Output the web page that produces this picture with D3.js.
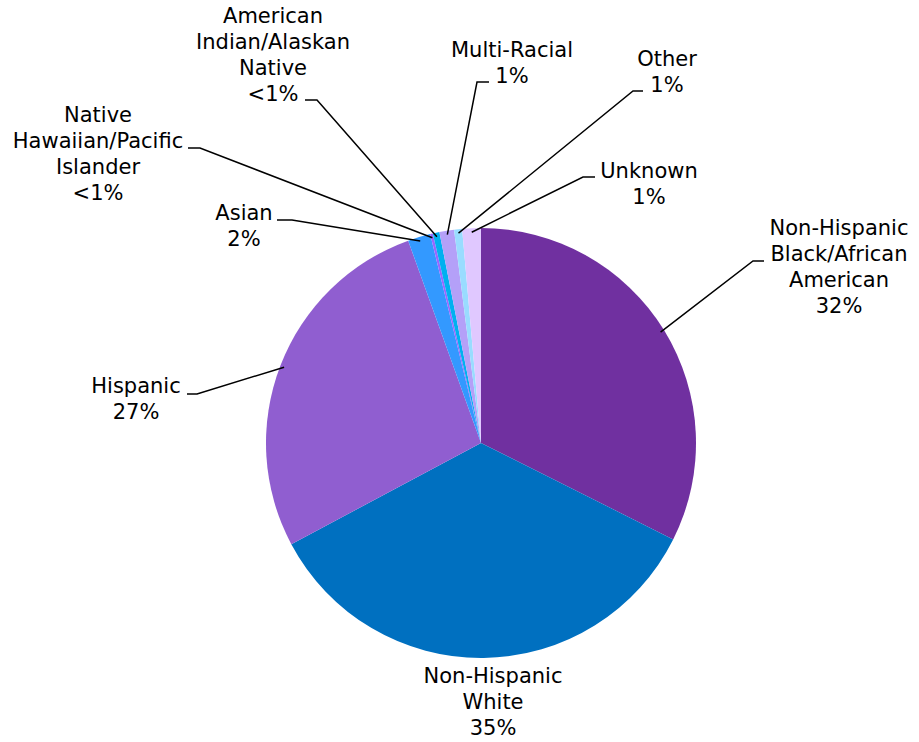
<!DOCTYPE html>
<html>
<head>
<meta charset="utf-8">
<script src="https://cdn.jsdelivr.net/npm/d3@7"></script>
<style>
  body { margin: 0; background: #fff; }
  svg text { font-family: "DejaVu Sans", Verdana, sans-serif; font-size: 21px; fill: #000; }
</style>
</head>
<body>
<svg id="chart" width="919" height="742"></svg>
<script>
// DATA
var categories = ["Non-Hispanic Black/African American", "Non-Hispanic White", "Hispanic", "Asian",
  "Native Hawaiian/Pacific Islander", "American Indian/Alaskan Native", "Multi-Racial", "Other", "Unknown"];
var shares = [32.4, 34.8, 27.3, 1.7, 0.2, 0.5, 1.1, 0.6, 1.4];
var pctLabels = ["32%", "35%", "27%", "2%", "<1%", "<1%", "1%", "1%", "1%"];
var labelLines = [
  ["Non-Hispanic", "Black/African", "American"],
  ["Non-Hispanic", "White"],
  ["Hispanic"],
  ["Asian"],
  ["Native", "Hawaiian/Pacific", "Islander"],
  ["American", "Indian/Alaskan", "Native"],
  ["Multi-Racial"],
  ["Other"],
  ["Unknown"]
];
var colors = ["#7030a0", "#0070c0", "#905ed0", "#3399ff", "#9966ff", "#00b0f0", "#b4a0f8", "#99dcff", "#e0c8ff"];

// LAYOUT (label block centre x, first baseline y, leader elbow)
var labelPos = [
  {x: 839, y: 235, elbow: [753, 261], end: 764},
  {x: 493, y: 683, elbow: null},
  {x: 136, y: 393, elbow: [197, 394], end: 187},
  {x: 244, y: 220, elbow: [292, 220], end: 277},
  {x: 98,  y: 122, elbow: [200, 148], end: 188},
  {x: 273, y: 23,  elbow: [317, 100], end: 305},
  {x: 512, y: 57,  elbow: [477, 82],  end: 489},
  {x: 667, y: 66,  elbow: [633, 91],  end: 643},
  {x: 649, y: 178, elbow: [583, 177], end: 595}
];

var svg = d3.select("#chart"),
    cx = 481, cy = 443, radius = 215,
    lineH = 26;

var g = svg.append("g").attr("transform", "translate(" + cx + "," + cy + ")");

var pie = d3.pie().sort(null).value(function(d) { return d; });
var arcs = pie(shares);

var arc = d3.arc().innerRadius(0).outerRadius(radius);
var edgeArc = d3.arc().innerRadius(radius - 4).outerRadius(radius - 4);

g.selectAll("path.slice")
  .data(arcs)
  .enter().append("path")
    .attr("class", "slice")
    .attr("d", arc)
    .attr("fill", function(d, i) { return colors[i]; });

// leader lines
arcs.forEach(function(d, i) {
  var p = labelPos[i];
  if (!p.elbow) return;
  var c = edgeArc.centroid(d);
  var start = [cx + c[0], cy + c[1]];
  svg.append("polyline")
    .attr("points", [start, p.elbow, [p.end, p.elbow[1]]].map(function(q) { return q.join(","); }).join(" "))
    .attr("fill", "none")
    .attr("stroke", "#000")
    .attr("stroke-width", 1.5);
});

// labels
labelLines.forEach(function(lines, i) {
  var p = labelPos[i];
  var t = svg.append("text")
    .attr("text-anchor", "middle")
    .attr("x", p.x)
    .attr("y", p.y);
  lines.concat([pctLabels[i]]).forEach(function(s, j) {
    t.append("tspan")
      .attr("x", p.x)
      .attr("dy", j === 0 ? 0 : lineH)
      .text(s);
  });
});
</script>
</body>
</html>
